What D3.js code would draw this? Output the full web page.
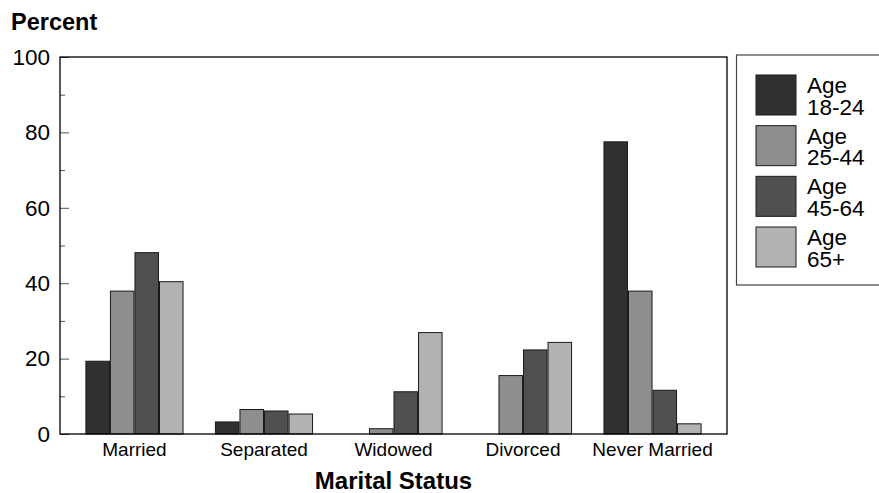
<!DOCTYPE html>
<html>
<head>
<meta charset="utf-8">
<script src="https://cdn.jsdelivr.net/npm/d3@7"></script>
<style>
  html, body { margin: 0; padding: 0; background: #fff; }
  svg { display: block; font-family: Arial, "Liberation Sans", sans-serif; }
</style>
</head>
<body>
<svg id="chart" width="879" height="493"></svg>
<script>
// ---- data ----
const categories = ["Married", "Separated", "Widowed", "Divorced", "Never Married"];
const seriesNames = ["Age 18-24", "Age 25-44", "Age 45-64", "Age 65+"];
const legendLine1 = ["Age", "Age", "Age", "Age"];
const legendLine2 = ["18-24", "25-44", "45-64", "65+"];
const age18_24 = [19.3, 3.2, 0, 0, 77.5];
const age25_44 = [37.9, 6.5, 1.4, 15.5, 37.9];
const age45_64 = [48.1, 6.1, 11.2, 22.3, 11.6];
const age65plus = [40.4, 5.3, 26.9, 24.3, 2.7];
const seriesValues = [age18_24, age25_44, age45_64, age65plus];
const majorTicks = [0, 20, 40, 60, 80, 100];
const minorTicks = [10, 30, 50, 70, 90];
const colors = ["#303030", "#8e8e8e", "#505050", "#b2b2b2"];

// ---- layout ----
const svg = d3.select("#chart");
const L = 60, R = 727, T = 57, B = 434;

const x0 = d3.scaleBand().domain(categories).range([L, R]).paddingInner(0.25).paddingOuter(0.2);
const x1 = d3.scaleBand().domain(d3.range(seriesNames.length)).range([0, x0.bandwidth()]).paddingInner(0.04);
const y = d3.scaleLinear().domain([0, 100]).range([B, T]);

// bars
const rows = [];
categories.forEach((c, ci) => {
  seriesValues.forEach((vals, si) => {
    if (vals[ci] > 0) rows.push({ c, si, v: vals[ci] });
  });
});
svg.append("g").selectAll("rect").data(rows).join("rect")
  .attr("x", d => x0(d.c) + x1(d.si))
  .attr("y", d => y(d.v))
  .attr("width", x1.bandwidth())
  .attr("height", d => y(0) - y(d.v))
  .attr("fill", d => colors[d.si])
  .attr("stroke", "#1a1a1a")
  .attr("stroke-width", 1);

// y axis major
const yAxis = svg.append("g").attr("transform", `translate(${L},0)`)
  .call(d3.axisLeft(y).tickValues(majorTicks).tickSizeInner(-9).tickSizeOuter(0).tickPadding(10).tickFormat(d3.format("d")));
yAxis.select(".domain").remove();
yAxis.selectAll(".tick line").attr("stroke", "#555");
yAxis.selectAll(".tick text").attr("font-size", 22.5).attr("fill", "#000")
  .attr("font-family", "Arial, 'Liberation Sans', sans-serif");

// y axis minor
const yMinor = svg.append("g").attr("transform", `translate(${L},0)`)
  .call(d3.axisLeft(y).tickValues(minorTicks).tickSizeInner(-5).tickSizeOuter(0).tickFormat(""));
yMinor.select(".domain").remove();
yMinor.selectAll(".tick line").attr("stroke", "#555");

// x axis labels
const xAxis = svg.append("g").attr("transform", `translate(0,${B})`)
  .call(d3.axisBottom(x0).tickSize(0).tickPadding(9));
xAxis.select(".domain").remove();
xAxis.selectAll(".tick text").attr("font-size", 19).attr("fill", "#000")
  .attr("font-family", "Arial, 'Liberation Sans', sans-serif");

// frame
svg.append("rect").attr("x", L).attr("y", T).attr("width", R - L).attr("height", B - T)
  .attr("fill", "none").attr("stroke", "#000").attr("stroke-width", 1.3);

// titles
svg.append("text").attr("x", 11).attr("y", 29.5).text("Percent")
  .attr("font-size", 23.5).attr("font-weight", "bold");
svg.append("text").attr("x", (L + R) / 2).attr("y", 489).attr("text-anchor", "middle")
  .text("Marital Status").attr("font-size", 24).attr("font-weight", "bold");

// legend
const lg = svg.append("g");
lg.append("rect").attr("x", 736.5).attr("y", 55).attr("width", 160).attr("height", 230)
  .attr("fill", "#fff").attr("stroke", "#444").attr("stroke-width", 1.2);
const ly = d3.scalePoint().domain(d3.range(seriesNames.length)).range([75, 227]);
const items = lg.selectAll("g.item").data(seriesNames).join("g").attr("class", "item")
  .attr("transform", (d, i) => `translate(756,${ly(i)})`);
items.append("rect").attr("width", 40).attr("height", 40)
  .attr("fill", (d, i) => colors[i]).attr("stroke", "#1a1a1a").attr("stroke-width", 1);
const lt = items.append("text").attr("font-size", 22.5);
lt.append("tspan").attr("x", 51).attr("y", 18).text((d, i) => legendLine1[i]);
lt.append("tspan").attr("x", 51).attr("y", 39.5).text((d, i) => legendLine2[i]);
</script>
</body>
</html>
